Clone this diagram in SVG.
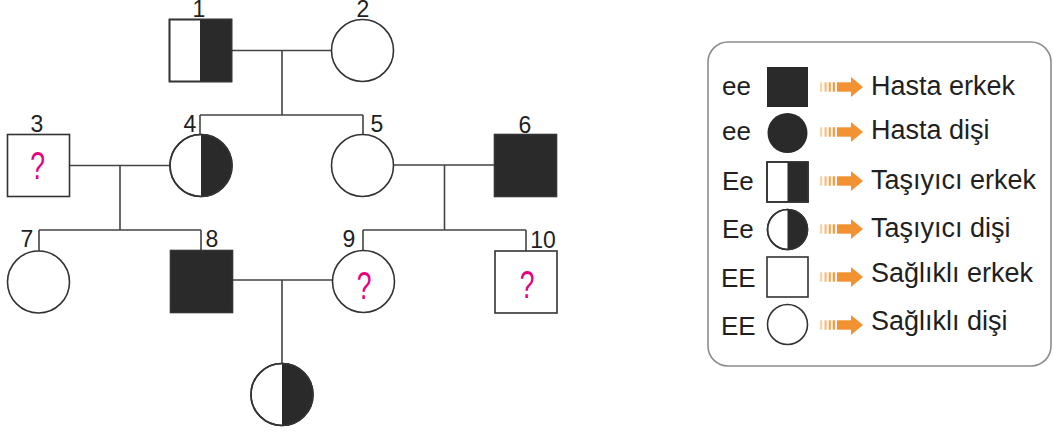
<svg xmlns="http://www.w3.org/2000/svg" width="1053" height="434" viewBox="0 0 1053 434">
<defs>
<style>
.sh{fill:#fff;stroke:#333;stroke-width:1.6}
.dk{fill:#2b2a2a}
.ln{fill:none;stroke:#444;stroke-width:1.6}
.num{font-family:"Liberation Sans",Arial,sans-serif;font-size:23px;fill:#231f20;text-anchor:middle}
.q{font-family:"Liberation Sans",Arial,sans-serif;font-size:39px;fill:#e6007e;text-anchor:middle}
.gt{font-family:"Liberation Sans",Arial,sans-serif;font-size:26px;fill:#231f20}
.lt{font-family:"Liberation Sans",Arial,sans-serif;font-size:27px;fill:#231f20}
.box{fill:#fff;stroke:#8c8c8c;stroke-width:1.6}
</style>
<g id="arrow">
<rect x="820" y="-4.7" width="2.2" height="9.4" fill="#fcd3a6"/>
<rect x="824.5" y="-4.7" width="2.2" height="9.4" fill="#f9bb7c"/>
<rect x="828.7" y="-4.7" width="2.2" height="9.4" fill="#f7a552"/>
<rect x="832.7" y="-4.7" width="2.2" height="9.4" fill="#f5973a"/>
<rect x="837" y="-4.7" width="15" height="9.4" fill="#f39232"/>
<polygon points="851,-10 863,0 851,10" fill="#f39232"/>
</g>
</defs>
<rect width="1053" height="434" fill="#fff"/>

<g id="connectors">
<path class="ln" d="M231 50.5H332M282 50.5V115M200 115H363M200 115V134.5M363 115V134.5"/>
<path class="ln" d="M69.5 165.5H170M120 165.5V230M39 230H201M39 230V251M201 230V250.5"/>
<path class="ln" d="M393.5 165H494.5M444.5 165V230M363 230H526M363 230V250.5M526 230V251"/>
<path class="ln" d="M232.5 280H332.5M282 280V363.5"/>
</g>

<g id="node1">
<rect class="sh" x="169.5" y="19.5" width="62" height="62"/>
<rect class="dk" x="200" y="19.5" width="31.5" height="62"/>
<rect x="169.5" y="19.5" width="62" height="62" fill="none" stroke="#333" stroke-width="1.6"/>
<text class="num" x="199" y="17">1</text>
</g>
<g id="node2">
<circle class="sh" cx="362.5" cy="50.5" r="31"/>
<text class="num" x="363" y="17">2</text>
</g>
<g id="node3">
<rect class="sh" x="7.5" y="134.5" width="62" height="62"/>
<text class="num" x="37" y="132">3</text>
<text class="q" transform="translate(37.5 179) scale(0.68 1)">?</text>
</g>
<g id="node4">
<circle class="sh" cx="201" cy="165.5" r="31"/>
<path class="dk" d="M201 134.5A31 31 0 0 1 201 196.5Z"/>
<circle cx="201" cy="165.5" r="31" fill="none" stroke="#333" stroke-width="1.6"/>
<text class="num" x="190" y="132">4</text>
</g>
<g id="node5">
<circle class="sh" cx="362.5" cy="165.5" r="31"/>
<text class="num" x="377" y="132">5</text>
</g>
<g id="node6">
<rect class="dk" x="494.5" y="134.5" width="62" height="62" stroke="#333" stroke-width="1.6"/>
<text class="num" x="525" y="132.5">6</text>
</g>
<g id="node7">
<circle class="sh" cx="38.5" cy="282" r="31"/>
<text class="num" x="27" y="247">7</text>
</g>
<g id="node8">
<rect class="dk" x="170.5" y="250.5" width="62" height="62" stroke="#333" stroke-width="1.6"/>
<text class="num" x="212" y="247">8</text>
</g>
<g id="node9">
<circle class="sh" cx="363.5" cy="281.5" r="31"/>
<text class="num" x="349" y="247">9</text>
<text class="q" transform="translate(364 298.5) scale(0.68 1)">?</text>
</g>
<g id="node10">
<rect class="sh" x="495" y="251" width="62" height="62"/>
<text class="num" x="543" y="247.5">10</text>
<text class="q" transform="translate(527 297.5) scale(0.68 1)">?</text>
</g>
<g id="node11">
<circle class="sh" cx="282" cy="394.5" r="31"/>
<path class="dk" d="M282 363.5A31 31 0 0 1 282 425.5Z"/>
<circle cx="282" cy="394.5" r="31" fill="none" stroke="#333" stroke-width="1.6"/>
</g>

<g id="legend">
<rect class="box" x="708" y="42" width="343" height="324" rx="20"/>
<g id="leg1">
<text class="gt" x="722" y="95">ee</text>
<rect class="dk" x="767" y="67" width="41" height="40"/>
<use href="#arrow" transform="translate(0 87)"/>
<text class="lt" x="871" y="94.5">Hasta erkek</text>
</g>
<g id="leg2">
<text class="gt" x="722" y="140">ee</text>
<circle class="dk" cx="787.5" cy="133" r="20"/>
<use href="#arrow" transform="translate(0 132)"/>
<text class="lt" x="871" y="139">Hasta dişi</text>
</g>
<g id="leg3">
<text class="gt" x="722" y="190">Ee</text>
<rect class="sh" x="767" y="162" width="41" height="40"/>
<rect class="dk" x="787.5" y="162" width="20.5" height="40"/>
<rect x="767" y="162" width="41" height="40" fill="none" stroke="#333" stroke-width="1.6"/>
<use href="#arrow" transform="translate(0 181)"/>
<text class="lt" x="871" y="188.5">Taşıyıcı erkek</text>
</g>
<g id="leg4">
<text class="gt" x="722" y="238">Ee</text>
<circle class="sh" cx="787.5" cy="229.5" r="20"/>
<path class="dk" d="M787.5 209.5A20 20 0 0 1 787.5 249.5Z"/>
<circle cx="787.5" cy="229.5" r="20" fill="none" stroke="#333" stroke-width="1.6"/>
<use href="#arrow" transform="translate(0 229)"/>
<text class="lt" x="871" y="237">Taşıyıcı dişi</text>
</g>
<g id="leg5">
<text class="gt" x="721" y="286.5">EE</text>
<rect class="sh" x="767" y="257" width="41" height="40"/>
<use href="#arrow" transform="translate(0 277)"/>
<text class="lt" x="871" y="282">Sağlıklı erkek</text>
</g>
<g id="leg6">
<text class="gt" x="721" y="335">EE</text>
<circle class="sh" cx="787.5" cy="324.5" r="20"/>
<use href="#arrow" transform="translate(0 325)"/>
<text class="lt" x="871" y="330">Sağlıklı dişi</text>
</g>
</g>
</svg>
